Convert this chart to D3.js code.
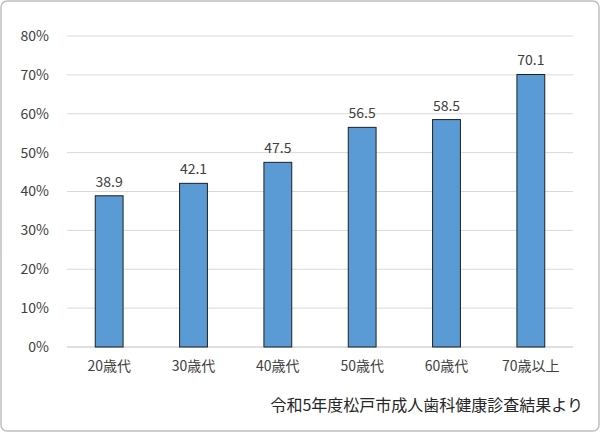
<!DOCTYPE html>
<html><head><meta charset="utf-8">
<script src="https://cdn.jsdelivr.net/npm/d3@7"></script>
<style>body{margin:0;background:#fff}</style>
</head><body>
<div class="chart"></div>
<script>
const categories = ["20歳代", "30歳代", "40歳代", "50歳代", "60歳代", "70歳以上"];
const values = [38.9, 42.1, 47.5, 56.5, 58.5, 70.1];
const yTicks = [0, 10, 20, 30, 40, 50, 60, 70, 80];
const note = "令和5年度松戸市成人歯科健康診査結果より";

const W = 600, H = 432;
const font = "'Noto Sans CJK JP', 'Noto Sans', sans-serif";
const svg = d3.select(".chart").append("svg").attr("width", W).attr("height", H);

svg.append("rect").attr("x", 1).attr("y", 1).attr("width", W - 2).attr("height", H - 2)
  .attr("rx", 6).attr("fill", "#fff").attr("stroke", "#bfbfbf").attr("stroke-width", 1.5);

const x = d3.scaleBand().domain(categories).range([67, 573]).paddingInner(0.67).paddingOuter(0.335);
const y = d3.scaleLinear().domain([0, 80]).range([347, 36]);

const g = svg.append("g");
g.selectAll(".grid").data(yTicks).enter().append("line")
  .attr("x1", 67).attr("x2", 573)
  .attr("y1", d => y(d)).attr("y2", d => y(d))
  .attr("stroke", d => d === 0 ? "#bfbfbf" : "#d9d9d9").attr("stroke-width", 1);

const yAxis = svg.append("g").attr("transform", "translate(52,0)")
  .call(d3.axisLeft(y).tickValues(yTicks).tickFormat(d => d + "%").tickSize(0));
yAxis.select(".domain").remove();
yAxis.selectAll("text").attr("font-family", font).attr("font-size", 14).attr("fill", "#404040");

const xAxis = svg.append("g").attr("transform", "translate(0,347)")
  .call(d3.axisBottom(x).tickSize(0).tickPadding(14));
xAxis.select(".domain").remove();
xAxis.selectAll("text").attr("font-family", font).attr("font-size", 14).attr("fill", "#404040");

svg.selectAll(".bar").data(values).enter().append("rect")
  .attr("x", (d, i) => x(categories[i]))
  .attr("y", d => y(d))
  .attr("width", x.bandwidth())
  .attr("height", d => y(0) - y(d))
  .attr("fill", "#5b9bd5").attr("stroke", "#1f1f1f").attr("stroke-width", 1);

svg.selectAll(".lbl").data(values).enter().append("text")
  .attr("x", (d, i) => x(categories[i]) + x.bandwidth() / 2)
  .attr("y", d => y(d) - 9)
  .attr("text-anchor", "middle")
  .attr("font-family", font).attr("font-size", 14).attr("fill", "#404040")
  .text(d => d.toFixed(1));

svg.append("text").attr("x", 583).attr("y", 411).attr("text-anchor", "end")
  .attr("font-family", font).attr("font-size", 16).attr("fill", "#262626").text(note);
</script>
</body></html>
